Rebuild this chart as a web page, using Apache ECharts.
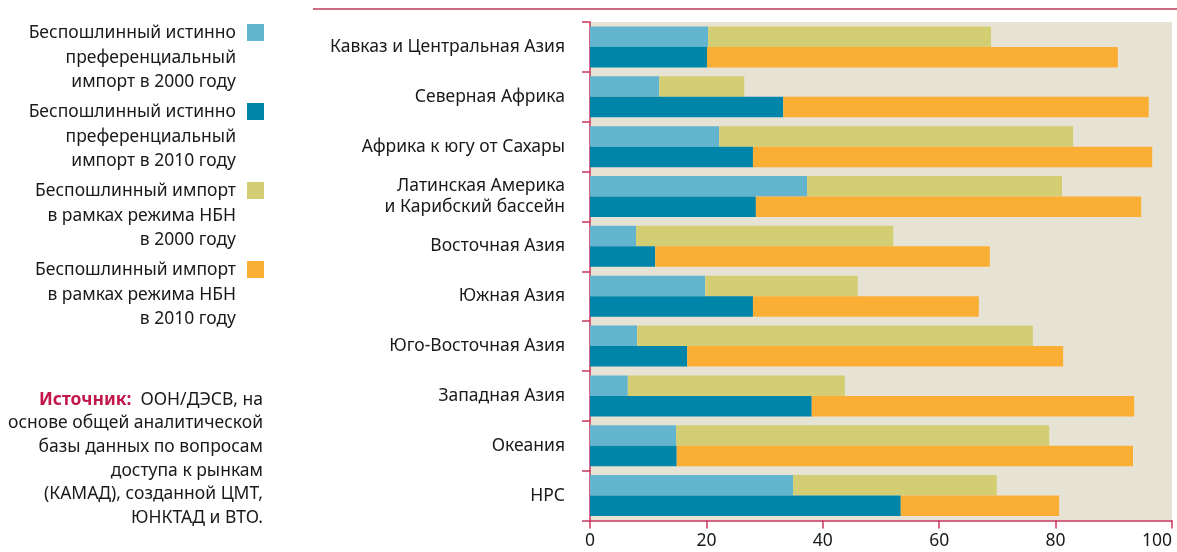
<!DOCTYPE html>
<html>
<head>
<meta charset="utf-8">
<script src="https://cdn.jsdelivr.net/npm/echarts@6/dist/echarts.min.js"></script>
<style>
  html, body { margin: 0; padding: 0; background: #fff; }
  #chart { width: 1177px; height: 552px; }
</style>
</head>
<body>
<div id="chart"></div>
<script>
// регионы сверху вниз
var regions = [
    'Кавказ и Центральная Азия',
    'Северная Африка',
    'Африка к югу от Сахары',
    'Латинская Америка\nи Карибский бассейн',
    'Восточная Азия',
    'Южная Азия',
    'Юго-Восточная Азия',
    'Западная Азия',
    'Океания',
    'НРС'
];

var seriesNames = [
    'Беспошлинный истинно\nпреференциальный\nимпорт в 2000 году',
    'Беспошлинный истинно\nпреференциальный\nимпорт в 2010 году',
    'Беспошлинный импорт\nв рамках режима НБН\nв 2000 году',
    'Беспошлинный импорт\nв рамках режима НБН\nв 2010 году'
];

// доли, %
var pref2000 = [20.3, 11.9, 22.2, 37.3, 7.9, 19.8, 8.1, 6.5, 14.8, 34.9];
var pref2010 = [20.1, 33.2, 28.0, 28.5, 11.2, 28.0, 16.7, 38.1, 14.9, 53.4];
var mfn2000 = [48.6, 14.6, 60.8, 43.8, 44.2, 26.2, 68.0, 37.3, 64.1, 35.0];
var mfn2010 = [70.6, 62.8, 68.6, 66.2, 57.5, 38.8, 64.6, 55.4, 78.4, 27.2];

var xTicks = [0, 20, 40, 60, 80, 100];

var colors = ['#63b4cf', '#0085aa', '#d3ce74', '#fbae34'];
var red = '#c8345f';
var font = 'Noto Sans';
var fs = 17.5;

var chart = echarts.init(document.getElementById('chart'));

// легенда слева
var legendItems = [];
var legendTop = [24, 103, 182, 261];
seriesNames.forEach(function (name, i) {
    legendItems.push({
        type: 'rect',
        shape: { x: 247, y: legendTop[i], width: 17, height: 17 },
        style: { fill: colors[i] }
    });
    legendItems.push({
        type: 'text',
        x: 236,
        y: legendTop[i] - 3,
        style: {
            text: name,
            align: 'right',
            verticalAlign: 'top',
            font: fs + 'px "' + font + '"',
            lineHeight: 24.5,
            fill: '#1a1a1a'
        }
    });
});

legendItems.push({
    type: 'text',
    x: 263,
    y: 388,
    style: {
        text: '{s|Источник:}  ООН/ДЭСВ, на\nоснове общей аналитической\nбазы данных по вопросам\nдоступа к рынкам\n(КАМАД), созданной ЦМТ,\nЮНКТАД и ВТО.',
        align: 'right',
        verticalAlign: 'top',
        font: fs + 'px "' + font + '"',
        lineHeight: 23.6,
        fill: '#1a1a1a',
        rich: {
            s: { fontFamily: font, fontSize: fs, fontWeight: 'bold', fill: '#c2174a', lineHeight: 23.6 }
        }
    }
});

legendItems.push({
    type: 'line',
    shape: { x1: 313, y1: 9, x2: 1177, y2: 9 },
    style: { stroke: '#cf6b85', lineWidth: 2 }
});

chart.setOption({
    animation: false,
    textStyle: { fontFamily: font },
    grid: {
        left: 590,
        right: 5,
        top: 22,
        bottom: 31.5,
        show: true,
        backgroundColor: '#e6e3d4',
        borderWidth: 0
    },
    xAxis: {
        type: 'value',
        min: xTicks[0],
        max: xTicks[xTicks.length - 1],
        interval: 20,
        axisLine: { show: true, lineStyle: { color: red, width: 1.5 } },
        axisTick: { show: true, length: 8, lineStyle: { color: red, width: 1.5 } },
        axisLabel: {
            color: '#1a1a1a',
            fontSize: fs,
            margin: 12,
            alignMaxLabel: 'right'
        },
        splitLine: { show: false }
    },
    yAxis: {
        type: 'category',
        data: regions,
        inverse: true,
        axisLine: { show: true, lineStyle: { color: red, width: 1.5 } },
        axisTick: { show: true, length: 8, lineStyle: { color: red, width: 1.5 } },
        axisLabel: {
            color: '#1a1a1a',
            fontSize: fs,
            margin: 25,
            lineHeight: 20.5,
            align: 'right'
        }
    },
    graphic: legendItems,
    series: [
        { name: seriesNames[0], type: 'bar', stack: 's2000', data: pref2000, itemStyle: { color: colors[0] }, barWidth: 20.5, barGap: '0%' },
        { name: seriesNames[2], type: 'bar', stack: 's2000', data: mfn2000, itemStyle: { color: colors[2] }, barWidth: 20.5, barGap: '0%' },
        { name: seriesNames[1], type: 'bar', stack: 's2010', data: pref2010, itemStyle: { color: colors[1] }, barWidth: 20.5, barGap: '0%' },
        { name: seriesNames[3], type: 'bar', stack: 's2010', data: mfn2010, itemStyle: { color: colors[3] }, barWidth: 20.5, barGap: '0%' }
    ]
});
</script>
</body>
</html>
